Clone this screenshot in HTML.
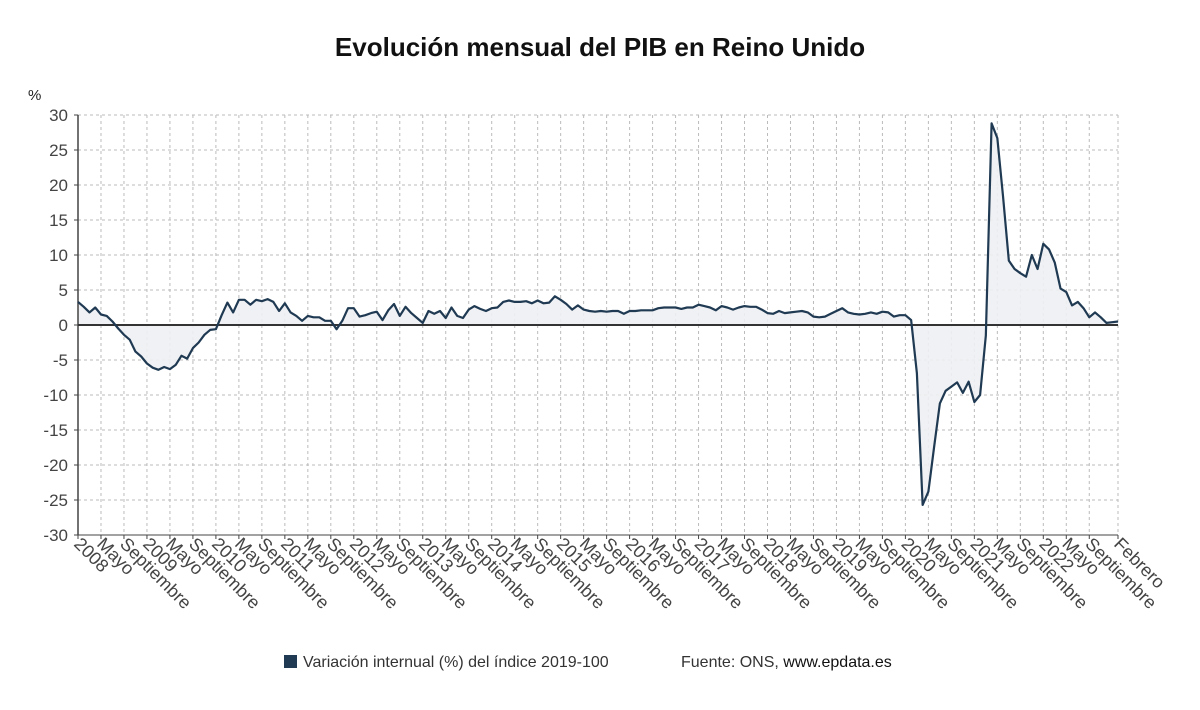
<!DOCTYPE html>
<html><head><meta charset="utf-8"><style>
body{margin:0;background:#fff;font-family:"Liberation Sans",sans-serif}
</style></head><body>
<svg id="chart" width="1200" height="705" xmlns="http://www.w3.org/2000/svg" font-family="Liberation Sans, sans-serif">
<rect width="1200" height="705" fill="#fff"/>
<text x="600" y="56" text-anchor="middle" font-size="26" font-weight="bold" fill="#111">Evolución mensual del PIB en Reino Unido</text>
<text x="28" y="100" font-size="15" fill="#222">%</text>
<g id="grid"></g><g id="area"></g><g id="axes"></g><g id="line"></g><g id="labels"></g>
<rect x="284" y="655" width="13" height="13" fill="#1f3a52"/>
<text x="303" y="667" font-size="16" fill="#333">Variación internual (%) del índice 2019-100</text>
<text x="681" y="667" font-size="16" fill="#333">Fuente: ONS, <tspan fill="#111">www.epdata.es</tspan></text>
</svg>
<script>
const values=[3.3,2.6,1.8,2.5,1.5,1.3,0.5,-0.5,-1.4,-2.1,-3.8,-4.5,-5.5,-6.1,-6.4,-6.0,-6.3,-5.7,-4.4,-4.8,-3.3,-2.5,-1.4,-0.7,-0.6,1.4,3.2,1.8,3.6,3.6,2.9,3.6,3.4,3.7,3.3,2.0,3.1,1.8,1.3,0.6,1.3,1.1,1.1,0.6,0.6,-0.6,0.6,2.4,2.4,1.2,1.4,1.7,1.9,0.7,2.1,3.0,1.3,2.6,1.7,1.0,
0.3,2.0,1.6,2.0,1.0,2.5,1.3,1.0,2.2,2.7,2.3,2.0,2.4,2.5,3.3,3.5,3.3,3.3,3.4,3.1,3.5,3.1,3.2,4.1,3.6,3.0,2.2,2.8,2.2,2.0,1.9,2.0,1.9,2.0,2.0,1.6,2.0,2.0,2.1,2.1,2.1,2.4,2.5,2.5,2.5,2.3,2.5,2.5,2.9,2.7,2.5,2.1,2.7,2.5,2.2,2.5,2.7,2.6,2.6,2.2,
1.7,1.6,2.0,1.7,1.8,1.9,2.0,1.8,1.2,1.1,1.2,1.6,2.0,2.4,1.8,1.6,1.5,1.6,1.8,1.6,1.9,1.8,1.2,1.4,1.4,0.7,-6.9,-25.7,-23.8,-17.4,-11.2,-9.4,-8.8,-8.2,-9.7,-8.1,-11.0,-10.0,-1.5,
28.8,26.7,18.3,9.2,8.0,7.4,6.9,10.0,8.0,11.6,10.8,8.9,5.2,4.7,2.8,3.3,2.4,1.1,1.8,1.1,0.3,0.4,0.5];
const yTicks=[30,25,20,15,10,5,0,-5,-10,-15,-20,-25,-30];
const years=["2008","2009","2010","2011","2012","2013","2014","2015","2016","2017","2018","2019","2020","2021","2022"];
const monthLabels=["Mayo","Septiembre"];
const lastLabel="Febrero";
const NS="http://www.w3.org/2000/svg";
const X0=78,X1=1118,Y0=115,Y1=535;
const n=values.length;
const xs=i=>X0+i*(X1-X0)/(n-1);
const ys=v=>Y0+(30-v)*(Y1-Y0)/60;
function mk(tag,attrs,parent){const e=document.createElementNS(NS,tag);for(const k in attrs)e.setAttribute(k,attrs[k]);parent.appendChild(e);return e;}
const grid=document.getElementById('grid'),axes=document.getElementById('axes'),labels=document.getElementById('labels');
yTicks.forEach(t=>{
  const l=mk('line',{x1:X0,x2:X1,y1:ys(t),y2:ys(t),stroke:'#bbb','stroke-dasharray':'3,3','stroke-width':1},grid);
  
  
  const tx=mk('text',{x:68,y:ys(t)+6,'text-anchor':'end','font-size':17,fill:'#444'},labels);
  tx.textContent=t;
  
  
  mk('line',{x1:X0-4,x2:X0,y1:ys(t),y2:ys(t),stroke:'#444'},axes);
});
const ticks=[];
years.forEach((y,k)=>{ticks.push([k*12,y]);ticks.push([k*12+4,monthLabels[0]]);ticks.push([k*12+8,monthLabels[1]]);});
ticks.push([n-1,lastLabel]);
ticks.forEach(([i,lab])=>{
  const x=xs(i);
  const g=mk('line',{x1:x,x2:x,y1:Y0,y2:Y1,stroke:'#bbb','stroke-dasharray':'3,3','stroke-width':1},grid);
  
  
  mk('line',{x1:x,x2:x,y1:Y1,y2:Y1+4,stroke:'#444'},axes);
  const tx=mk('text',{transform:`translate(${x-5},${Y1+10}) rotate(45)`,'font-size':18,fill:'#444'},labels);
  tx.textContent=lab;
  
  
});
let d=`M${xs(0)},${ys(0)}`;values.forEach((v,i)=>d+=`L${xs(i)},${ys(v)}`);d+=`L${xs(n-1)},${ys(0)}Z`;
const a=mk('path',{d:d,fill:'#eef0f3',opacity:0.9},document.getElementById('area'));


const ax=mk('line',{x1:X0,x2:X0,y1:Y0,y2:Y1,stroke:'#444','stroke-width':1.5},axes);


const bx=mk('line',{x1:X0,x2:X1,y1:Y1,y2:Y1,stroke:'#444','stroke-width':1},axes);


const z=mk('line',{x1:X0,x2:X1,y1:ys(0),y2:ys(0),stroke:'#333','stroke-width':2},axes);


const pts=values.map((v,i)=>`${xs(i)},${ys(v)}`).join(' ');
const pl=mk('polyline',{points:pts,fill:'none',stroke:'#1f3a52','stroke-width':2.2,'stroke-linejoin':'round'},document.getElementById('line'));


</script>
</body></html>
